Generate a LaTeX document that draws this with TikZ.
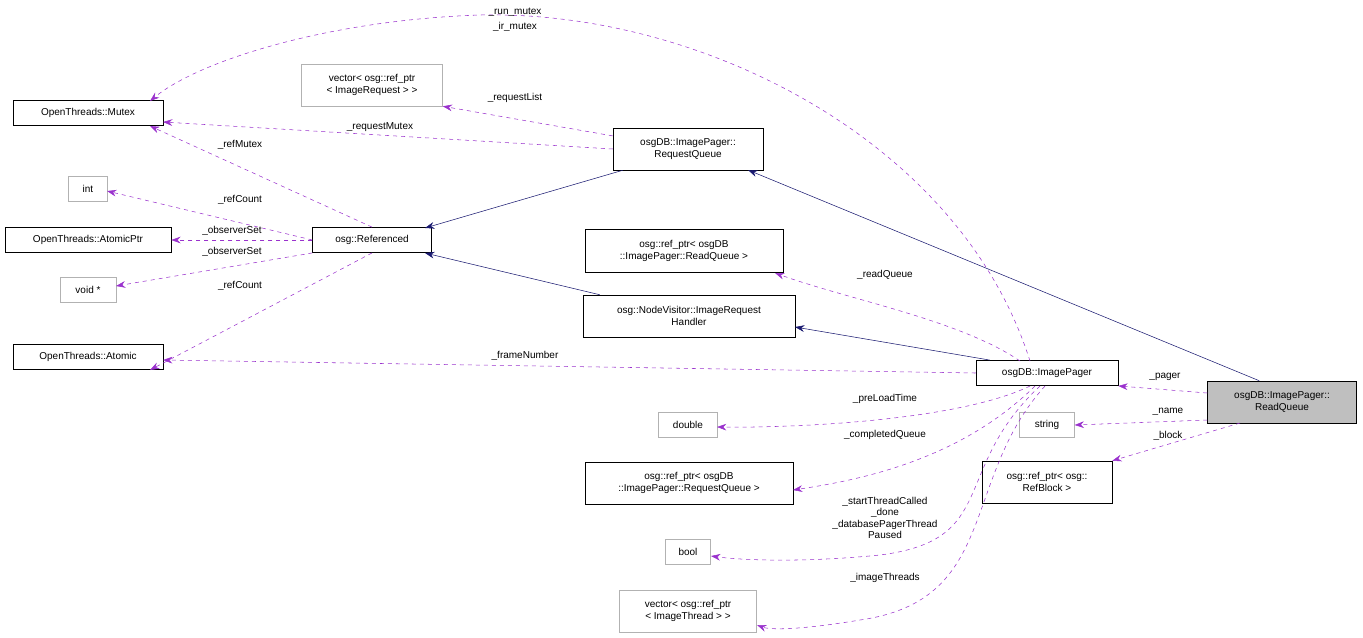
\documentclass[tikz,border=0pt]{standalone}
\usepackage{fontspec}
\setmainfont{Liberation Sans}
\usetikzlibrary{arrows.meta}
\definecolor{dep}{HTML}{9A32CD}
\definecolor{inh}{HTML}{191970}
\begin{document}
\begin{tikzpicture}[x=0.75pt,y=-0.75pt,font=\fontsize{7.5}{8.6}\selectfont,
 box/.style={draw=black,fill=white,align=center,inner sep=0pt,minimum height=#1},
 box/.default=19pt,
 gbox/.style={draw=black!30,fill=white,align=center,inner sep=0pt,minimum height=#1},
 gbox/.default=19pt,
 use/.style={draw=dep,dashed,-{Stealth[length=7pt,width=5pt]}},
 isa/.style={draw=inh,-{Stealth[length=7pt,width=5pt]}},
 lab/.style={align=center,inner sep=1pt}]
\useasboundingbox (0,0) rectangle (1363,637);
\node[box,minimum width=112.5pt] (mutex) at (88,113) {OpenThreads::Mutex};
\node[gbox=31.5pt,minimum width=105.75pt] (vreq) at (372,85) {vector< osg::ref\_ptr\\< ImageRequest > >};
\node[box=31.5pt,minimum width=112.5pt] (rq) at (688,149) {osgDB::ImagePager::\\RequestQueue};
\node[gbox,minimum width=29pt] (int) at (88,189) {int};
\node[box,minimum width=124.5pt] (aptr) at (88,240) {OpenThreads::AtomicPtr};
\node[box,minimum width=89pt] (ref) at (372,240) {osg::Referenced};
\node[gbox,minimum width=42pt] (void) at (88,290) {void *};
\node[box,minimum width=112.5pt] (atomic) at (88,357) {OpenThreads::Atomic};
\node[box=32pt,minimum width=148.5pt] (rprq) at (684,251) {osg::ref\_ptr< osgDB\\::ImagePager::ReadQueue >};
\node[box=31.5pt,minimum width=159pt] (irh) at (689,316) {osg::NodeVisitor::ImageRequest\\Handler};
\node[box,minimum width=106.5pt] (ip) at (1047,373) {osgDB::ImagePager};
\node[box=31.5pt,minimum width=111.75pt,fill=black!25] (rqq) at (1282,402) {osgDB::ImagePager::\\ReadQueue};
\node[gbox,minimum width=41pt] (string) at (1047,425) {string};
\node[box=31.5pt,minimum width=97.5pt] (rb) at (1047,482) {osg::ref\_ptr< osg::\\RefBlock >};
\node[gbox,minimum width=44pt] (double) at (688,425) {double};
\node[box=31.5pt,minimum width=156pt] (rpreq) at (689,483) {osg::ref\_ptr< osgDB\\::ImagePager::RequestQueue >};
\node[gbox,minimum width=34pt] (bool) at (688,552) {bool};
\node[gbox=31.5pt,minimum width=103pt] (vth) at (688,611) {vector< osg::ref\_ptr\\< ImageThread > >};

% inheritance
\draw[isa] (rq.south west)+(10,0) -- (425,253-25);
\draw[isa] (irh.north west)+(17,0) -- (425,253);
\draw[isa] (ip.north west)+(14,0) -- (795,327);
\draw[isa] (rqq.north west)+(52,0) -- (748,170);

% usage
\draw[use] (rq) -- (vreq.south east);
\node[lab] at (515,98) {\_requestList};
\draw[use] (rq.west) -- (163,122);
\node[lab] at (380,127) {\_requestMutex};
\draw[use] (ref.north) -- (150,126);
\node[lab] at (240,145) {\_refMutex};
\draw[use] (ref.west) -- (107,191);
\node[lab] at (240,200) {\_refCount};
\draw[use] (ref.west) -- (aptr.east);
\node[lab] at (232,231) {\_observerSet};
\draw[use] (ref.south west) -- (116,286);
\node[lab] at (232,252) {\_observerSet};
\draw[use] (ref.south) -- (150,370);
\node[lab] at (240,286) {\_refCount};
\draw[use] (1030,361) .. controls (960,140) and (700,10) .. (480,15) .. controls (330,20) and (200,60) .. (150,101);
\node[lab] at (515,12) {\_run\_mutex};
\node[lab] at (515,27) {\_ir\_mutex};
\draw[use] (1020,361) .. controls (960,320) and (850,300) .. (775,273);
\node[lab] at (885,275) {\_readQueue};
\draw[use] (ip.west) -- (163,360);
\node[lab] at (525,356) {\_frameNumber};
\draw[use] (1030,386) .. controls (960,420) and (800,428) .. (717,427);
\node[lab] at (885,399) {\_preLoadTime};
\draw[use] (1035,386) .. controls (960,460) and (860,480) .. (793,490);
\node[lab] at (885,435) {\_completedQueue};
\draw[use] (1040,386) .. controls (950,470) and (1000,540) .. (880,555) .. controls (800,563) and (740,560) .. (711,556);
\node[lab] at (885,518) {\_startThreadCalled\\\_done\\\_databasePagerThread\\Paused};
\draw[use] (1045,386) .. controls (960,480) and (1000,600) .. (860,620) .. controls (800,630) and (770,630) .. (757,625);
\node[lab] at (885,578) {\_imageThreads};
\draw[use] (rqq.west |- 0,393) -- (ip.south east);
\node[lab] at (1165,377) {\_pager};
\draw[use] (rqq.west |- 0,420) -- (string.east);
\node[lab] at (1168,412) {\_name};
\draw[use] (1240,423) -- (rb.north east);
\node[lab] at (1168,436) {\_block};
\end{tikzpicture}
\end{document}
